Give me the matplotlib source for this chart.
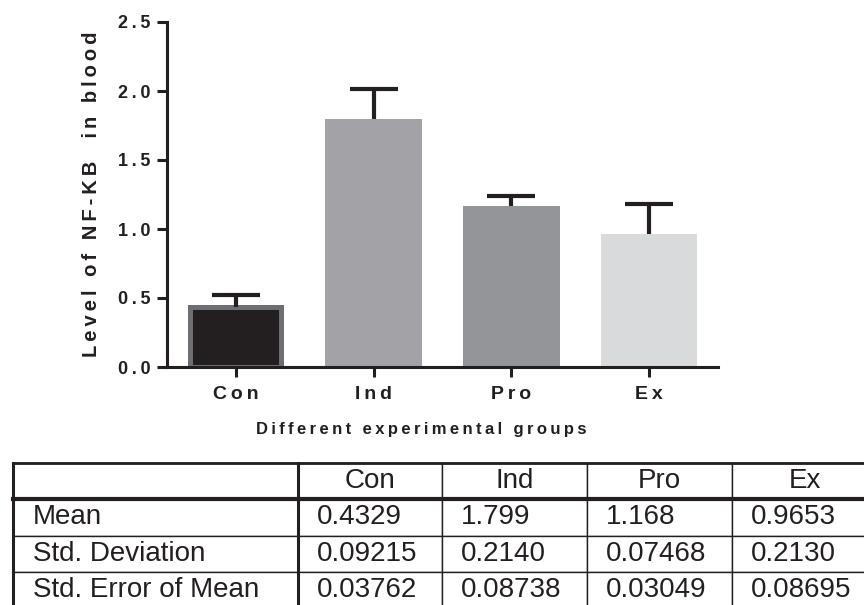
import numpy as np
import matplotlib
matplotlib.use('Agg')
import matplotlib.pyplot as plt

groups = ['Con', 'Ind', 'Pro', 'Ex']
means = [0.4329, 1.799, 1.168, 0.9653]
std_dev = [0.09215, 0.2140, 0.07468, 0.2130]
sem = [0.03762, 0.08738, 0.03049, 0.08695]

row_names = ['Mean', 'Std. Deviation', 'Std. Error of Mean']
mean_txt = ['0.4329', '1.799', '1.168', '0.9653']
sd_txt = ['0.09215', '0.2140', '0.07468', '0.2130']
sem_txt = ['0.03762', '0.08738', '0.03049', '0.08695']

y_ticks = [0.0, 0.5, 1.0, 1.5, 2.0, 2.5]

bar_colors = ['#231f20', '#a3a3a7', '#939598', '#d9dadb']
dark = '#231f20'

plt.rcParams['font.family'] = ['Liberation Sans', 'DejaVu Sans']

TH = '\u2009'


def spaced(s):
    # prism style letter spacing
    return TH.join(s)


fig = plt.figure(figsize=(8.64, 6.05), dpi=100)
ax = fig.add_axes([167 / 864, 1 - 367 / 605, 551 / 864, 345 / 605])

x = np.arange(len(groups))
ax.bar(x, means, width=[0.66, 0.7, 0.7, 0.7], color=bar_colors,
       edgecolor=['#6d6e71', 'none', 'none', 'none'],
       linewidth=[3.6, 0, 0, 0], zorder=2)
# only the upper (SD) half of the error bar, as in the original
_, caps, _ = ax.errorbar(x, means, yerr=[np.zeros(len(means)), std_dev],
                         fmt='none', ecolor=dark, elinewidth=3, capsize=17,
                         capthick=3, zorder=3)
caps[0].set_visible(False)

ax.set_xlim(-0.5, 3.5)
ax.set_ylim(0, 2.5)
ax.set_yticks(y_ticks)
ax.set_yticklabels([spaced(f'{t:.1f}') for t in y_ticks],
                   fontsize=13, fontweight='bold', color=dark)
ax.set_xticks(x)
ax.set_xticklabels([spaced(g) for g in groups], fontsize=14,
                   fontweight='bold', color=dark)

for s in ['top', 'right']:
    ax.spines[s].set_visible(False)
for s in ['left', 'bottom']:
    ax.spines[s].set_linewidth(2.2)
    ax.spines[s].set_color(dark)
ax.tick_params(axis='both', direction='out', length=7, width=2.2, color=dark)
ax.tick_params(axis='y', pad=5)
ax.tick_params(axis='x', pad=7)

ax.set_ylabel(spaced('Level of NF-KB  in blood'), fontsize=14.5,
              fontweight='bold', color=dark)
ax.yaxis.set_label_coords(-0.12, 0.5)
ax.set_xlabel(spaced('Different experimental groups'), fontsize=12,
              fontweight='bold', color=dark)
ax.xaxis.set_label_coords(0.462, -0.16)

# statistics table under the chart
ax_t = fig.add_axes([13 / 864, -3 / 605, 864 / 864, 145 / 605])
ax_t.axis('off')
ax_t.set_xlim(0, 1)
ax_t.set_ylim(0, 1)

col_w = [285, 144, 145, 145, 145]
col_w = [w / sum(col_w) for w in col_w]
cell_text = [[row_names[0]] + mean_txt,
             [row_names[1]] + sd_txt,
             [row_names[2]] + sem_txt]
tbl = ax_t.table(cellText=cell_text, colLabels=[''] + groups,
                 colWidths=col_w, bbox=[0, 0, 1, 1])
tbl.auto_set_font_size(False)
tbl.set_fontsize(20)
for (r, c), cell in tbl.get_celld().items():
    cell.set_linewidth(1.0)
    cell.set_edgecolor(dark)
    cell.get_text().set_color(dark)
    if r == 0:
        cell.get_text().set_ha('center')
    elif c == 0:
        cell.get_text().set_ha('left')
        cell.PAD = 20 / 285
    else:
        cell.get_text().set_ha('left')
        cell.PAD = 19 / 145

# heavier rules like the original
sep = col_w[0]
ax_t.plot([0, 1], [1, 1], color=dark, lw=2.0, clip_on=False)
ax_t.plot([0, 0], [0, 1], color=dark, lw=2.2, clip_on=False)
ax_t.plot([sep, sep], [0, 1], color=dark, lw=2.2, clip_on=False)
ax_t.plot([0, 1], [0.75, 0.75], color=dark, lw=3.0, clip_on=False)

fig.savefig('out.png', dpi=100)
